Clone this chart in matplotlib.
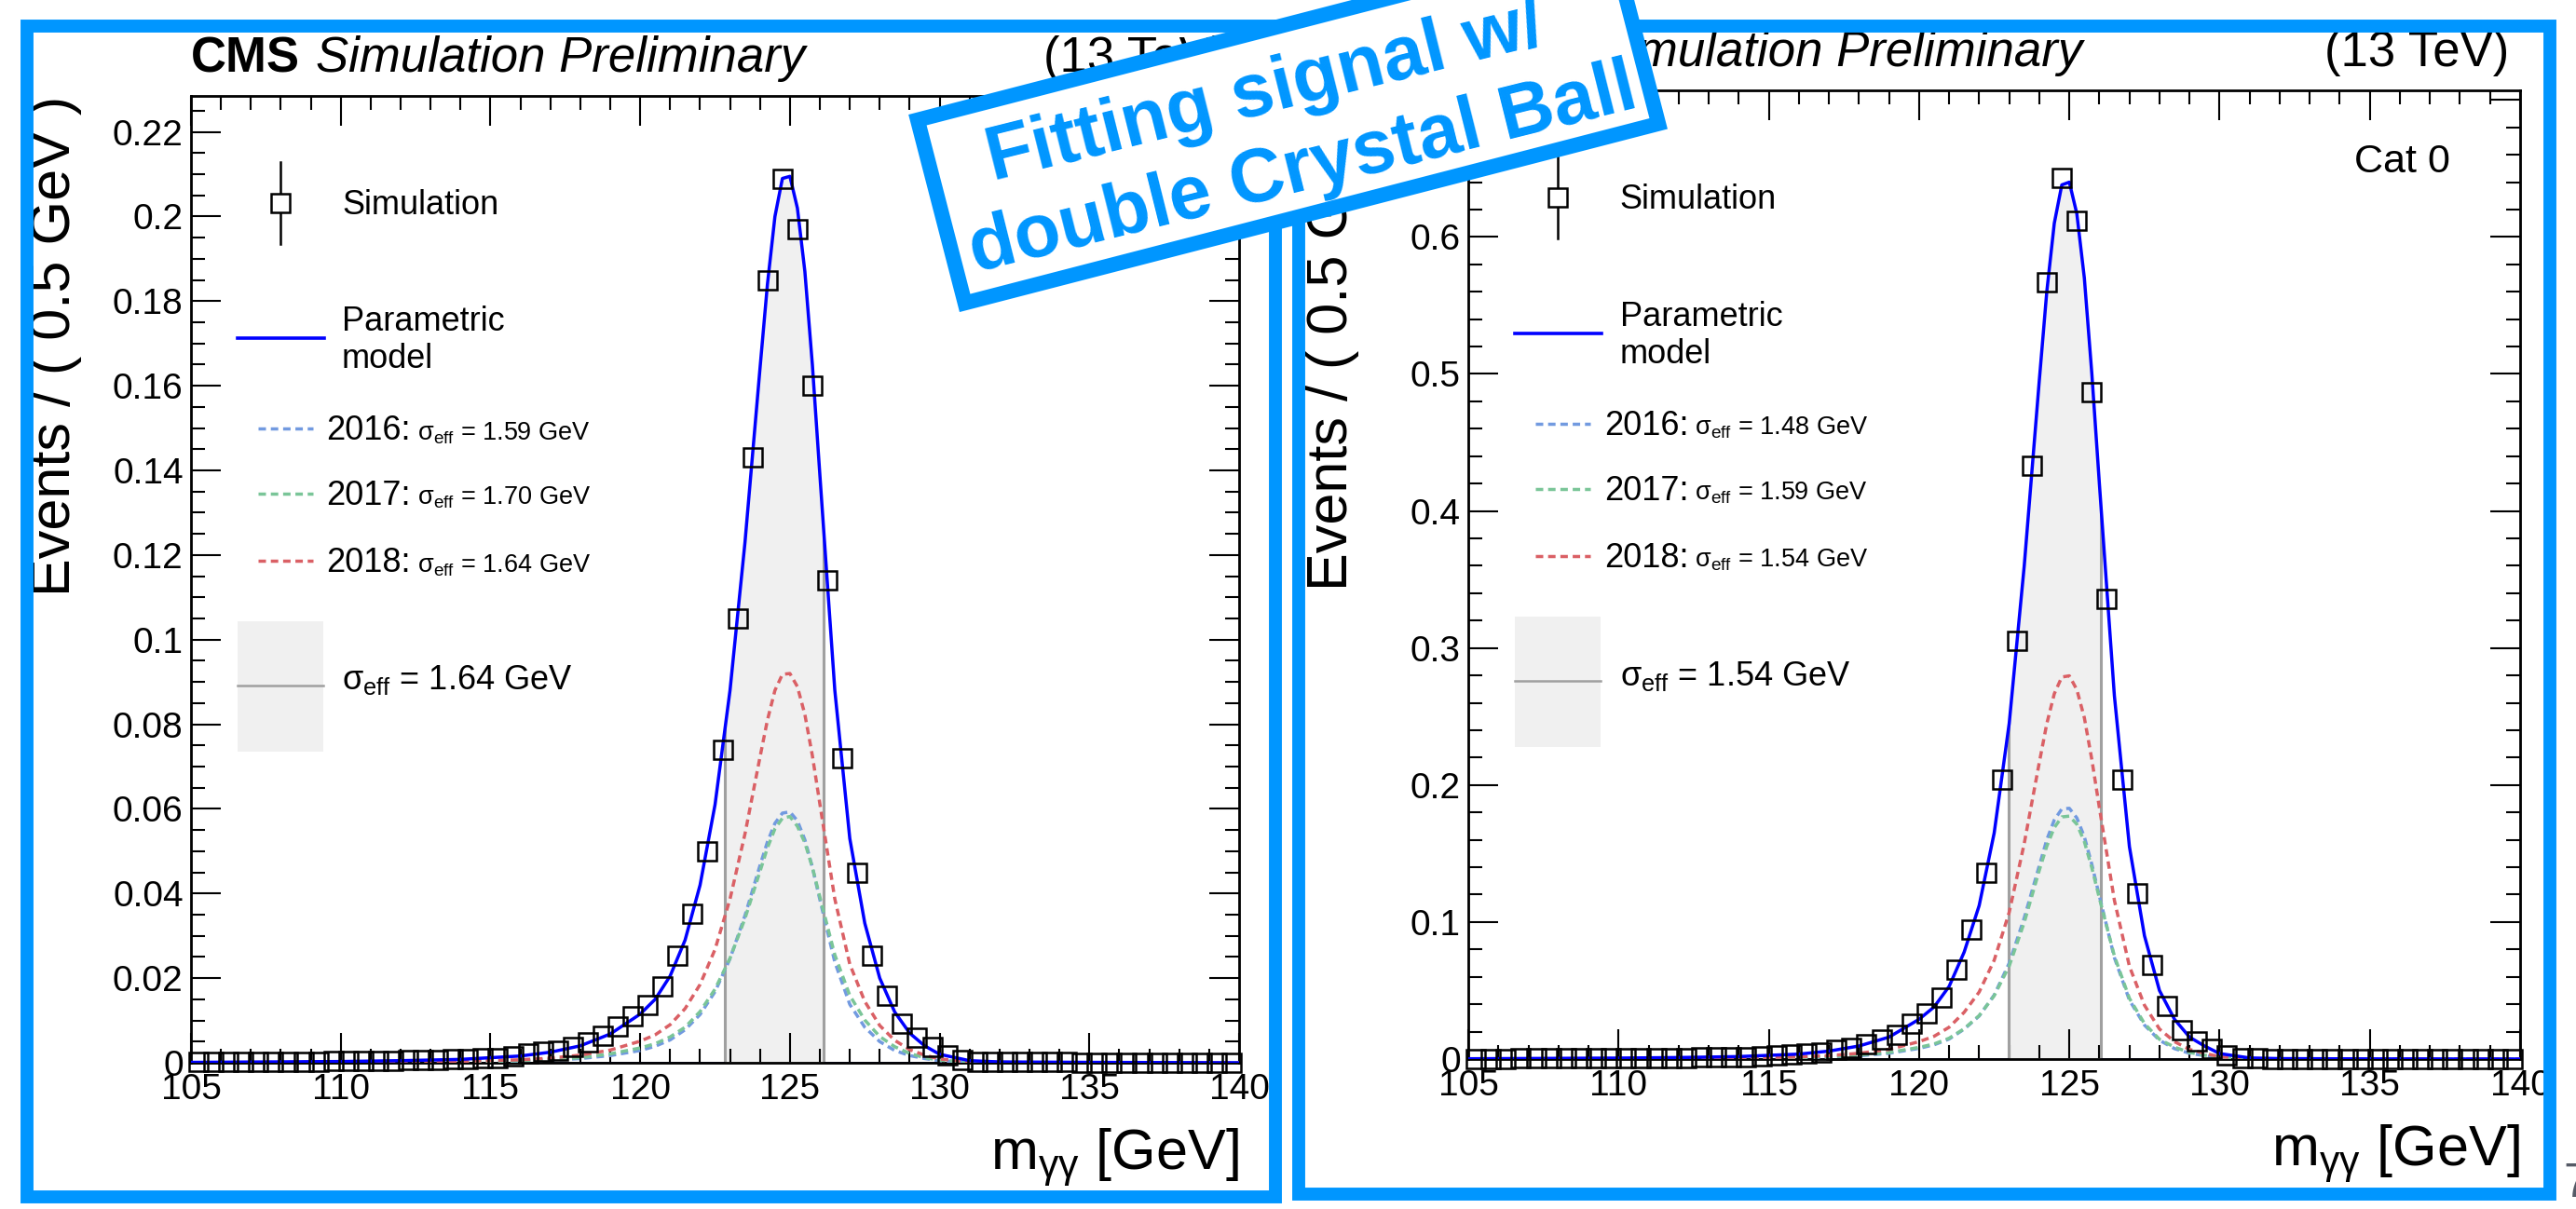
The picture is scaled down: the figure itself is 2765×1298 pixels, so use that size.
"""
Signal model figure: CMS H->gg double Crystal Ball fit, two categories side by side,
framed in blue with a rotated call-out box on top. Writes out.png (2765x1298).
"""
import numpy as np
import matplotlib
matplotlib.use("Agg")
import matplotlib.pyplot as plt
from matplotlib.patches import Rectangle
from matplotlib.ticker import MultipleLocator, FuncFormatter

plt.rcParams.update({
    "font.family":      ["Liberation Sans", "DejaVu Sans"],
    "mathtext.fontset": "custom",
    "mathtext.rm":      "Liberation Sans",
    "mathtext.it":      "Liberation Sans:italic",
    "mathtext.bf":      "Liberation Sans:bold",
})

# ── Data ─────────────────────────────────────────────────────────────────────
MASS_BINS = np.arange(105.25, 140.0, 0.5)          # 0.5 GeV bin centres, 70 bins
YEARS = ["2016", "2017", "2018"]

# left panel (all categories)
SIM_ALL = [
    0.0002, 0.0002, 0.0002, 0.0002, 0.0003, 0.0003, 0.0003, 0.0003, 0.0003, 0.0004,
    0.0004, 0.0004, 0.0005, 0.0005, 0.0006, 0.0006, 0.0007, 0.0008, 0.0009, 0.0010,
    0.0012, 0.0015, 0.0022, 0.0026, 0.0029, 0.0037, 0.0048, 0.0063, 0.0085, 0.0110,
    0.0136, 0.0180, 0.0254, 0.0353, 0.0500, 0.0740, 0.1050, 0.1430, 0.1850, 0.2090,
    0.1970, 0.1600, 0.1140, 0.0720, 0.0450, 0.0254, 0.0158, 0.0092, 0.0060, 0.0037,
    0.0018, 0.0007, 0.0003, 0.0002, 0.0002, 0.0002, 0.0002, 0.0002, 0.0002, 0.0001,
    0.0001, 0.0001, 0.0001, 0.0001, 0.0001, 0.0001, 0.0001, 0.0001, 0.0001, 0.0001,
]
# right panel (Cat 0)
SIM_CAT0 = [
    0.0003, 0.0003, 0.0003, 0.0004, 0.0004, 0.0004, 0.0005, 0.0005, 0.0005, 0.0006,
    0.0006, 0.0007, 0.0008, 0.0009, 0.0010, 0.0011, 0.0013, 0.0015, 0.0016, 0.0020,
    0.0027, 0.0032, 0.0039, 0.0050, 0.0068, 0.0084, 0.0107, 0.0141, 0.0175, 0.0255,
    0.0334, 0.0448, 0.0650, 0.0948, 0.1360, 0.2040, 0.3050, 0.4330, 0.5670, 0.6430,
    0.6120, 0.4870, 0.3360, 0.2040, 0.1210, 0.0686, 0.0390, 0.0210, 0.0130, 0.0073,
    0.0027, 0.0010, 0.0005, 0.0003, 0.0003, 0.0003, 0.0003, 0.0003, 0.0002, 0.0002,
    0.0002, 0.0002, 0.0002, 0.0002, 0.0001, 0.0001, 0.0001, 0.0001, 0.0001, 0.0001,
]

# model curves, sampled along the mass axis
CURVE_X = [105, 110, 112, 114, 116, 117, 118, 119, 120, 120.5, 121, 121.5, 122,
           122.5, 123, 123.5, 124, 124.25, 124.5, 124.75, 125, 125.25, 125.5,
           125.75, 126, 126.5, 127, 127.5, 128, 128.5, 129, 129.5, 130, 131, 132,
           135, 140]

MODEL_ALL = [0.0001, 0.0003, 0.0005, 0.0008, 0.0016, 0.0025, 0.0040, 0.0068, 0.0115,
             0.0150, 0.0205, 0.0290, 0.0420, 0.0610, 0.0880, 0.1230, 0.1640, 0.1840,
             0.2000, 0.2090, 0.2095, 0.2020, 0.1870, 0.1650, 0.1390, 0.0880, 0.0530,
             0.0330, 0.0200, 0.0120, 0.0070, 0.0040, 0.0020, 0.0005, 0.0002, 0.0001, 0.0]
Y2016_ALL = [0.00003, 0.00008, 0.00013, 0.0002, 0.0004, 0.0006, 0.0010, 0.0017, 0.0029,
             0.0039, 0.0054, 0.0078, 0.0114, 0.0168, 0.0246, 0.0348, 0.0466, 0.0522,
             0.0566, 0.0590, 0.0593, 0.0572, 0.0527, 0.0462, 0.0386, 0.0238, 0.0138,
             0.0084, 0.0050, 0.0029, 0.0017, 0.0010, 0.0005, 0.0001, 0.0, 0.0, 0.0]
Y2017_ALL = [0.00003, 0.00009, 0.00015, 0.00025, 0.0005, 0.0008, 0.0012, 0.0021, 0.0035,
             0.0045, 0.0061, 0.0084, 0.0121, 0.0174, 0.0247, 0.0341, 0.0452, 0.0508,
             0.0553, 0.0578, 0.0582, 0.0559, 0.0520, 0.0462, 0.0392, 0.0255, 0.0159,
             0.0101, 0.0062, 0.0038, 0.0022, 0.0012, 0.0006, 0.0002, 0.0001, 0.0, 0.0]
Y2018_ALL = [0.00004, 0.00013, 0.00022, 0.00035, 0.0007, 0.0011, 0.0018, 0.0030, 0.0051,
             0.0066, 0.0090, 0.0128, 0.0185, 0.0268, 0.0387, 0.0541, 0.0722, 0.0810,
             0.0880, 0.0918, 0.0920, 0.0889, 0.0823, 0.0726, 0.0612, 0.0387, 0.0233,
             0.0145, 0.0088, 0.0053, 0.0031, 0.0018, 0.0009, 0.0002, 0.0001, 0.0, 0.0]

MODEL_CAT0 = [0.0002, 0.0007, 0.0011, 0.0018, 0.0036, 0.0058, 0.0095, 0.0160, 0.0290,
              0.0380, 0.0530, 0.0780, 0.1120, 0.1650, 0.2450, 0.3600, 0.4950, 0.5600,
              0.6100, 0.6380, 0.6400, 0.6170, 0.5700, 0.5000, 0.4200, 0.2650, 0.1550,
              0.0900, 0.0500, 0.0290, 0.0160, 0.0095, 0.0040, 0.0008, 0.0003, 0.0001, 0.0]
Y2016_CAT0 = [0.00005, 0.0002, 0.0003, 0.0004, 0.0009, 0.0016, 0.0024, 0.0042, 0.0078,
              0.0104, 0.0146, 0.0218, 0.0314, 0.0467, 0.0700, 0.1030, 0.1410, 0.1600,
              0.1745, 0.1825, 0.1830, 0.1760, 0.1622, 0.1420, 0.1190, 0.0740, 0.0430,
              0.0248, 0.0137, 0.0076, 0.0042, 0.0025, 0.0011, 0.0002, 0.0001, 0.0, 0.0]
Y2017_CAT0 = [0.00005, 0.0002, 0.00032, 0.0006, 0.0011, 0.0017, 0.0029, 0.0048, 0.0085,
              0.0110, 0.0152, 0.0221, 0.0317, 0.0462, 0.0679, 0.0997, 0.1377, 0.1553,
              0.1689, 0.1767, 0.1773, 0.1714, 0.1587, 0.1395, 0.1175, 0.0752, 0.0443,
              0.0259, 0.0144, 0.0087, 0.0048, 0.0028, 0.0012, 0.0003, 0.0001, 0.0001, 0.0]
Y2018_CAT0 = [0.0001, 0.0003, 0.00048, 0.0008, 0.0016, 0.0025, 0.0042, 0.0070, 0.0127,
              0.0166, 0.0232, 0.0341, 0.0489, 0.0721, 0.1071, 0.1573, 0.2163, 0.2447,
              0.2666, 0.2788, 0.2797, 0.2696, 0.2491, 0.2185, 0.1835, 0.1158, 0.0677,
              0.0393, 0.0219, 0.0127, 0.0070, 0.0042, 0.0017, 0.0003, 0.0001, 0.0, 0.0]

SIGMA_YEARS_ALL  = [1.59, 1.70, 1.64]
SIGMA_YEARS_CAT0 = [1.48, 1.59, 1.54]
SIGMA_ALL  = 1.64
SIGMA_CAT0 = 1.54
WINDOW_ALL  = (122.83, 126.11)     # sigma_eff window shaded under the model
WINDOW_CAT0 = (122.99, 126.05)

CALLOUT_LINES = ["Fitting signal w/", "double Crystal Ball"]

# ── Style / layout constants ─────────────────────────────────────────────────
W_PX, H_PX = 2765, 1298
DPI = 100
XMIN, XMAX = 105, 140

MODEL_BLUE  = "#0000ff"
YEAR_COLORS = ["#729ae0", "#7ac598", "#da6065"]
BAND_GREY   = "#f0f0f0"
EDGE_GREY   = "#a0a0a0"
BASE_NAVY   = "#2a2a80"
FRAME_BLUE  = "#0096ff"
DASH        = (0, (2.3, 1.5))
LW_DASH     = 2.5

FS_TICK, FS_LEG, FS_SMALL, FS_AXIS, FS_CMS, FS_CAT = 28, 26, 19.5, 44, 38, 31


def px_axes(left, right, top, bottom):
    """Axes rect in figure fractions from pixel edges (y measured from top)."""
    return [left / W_PX, 1 - bottom / H_PX, (right - left) / W_PX, (bottom - top) / H_PX]


def draw_legend(ax, sig_years, sig_comb):
    tr = ax.transAxes
    ax.plot([0.085, 0.085], [0.847, 0.932], transform=tr, color="black", lw=1.8, zorder=6)
    ax.plot([0.085], [0.889], transform=tr, ls="none", marker="s", ms=14,
            mfc="white", mec="black", mew=1.8, zorder=7)
    ax.text(0.144, 0.8776, "Simulation", transform=tr, fontsize=FS_LEG, va="baseline")

    ax.plot([0.0444, 0.127], [0.7495, 0.7495], transform=tr, color=MODEL_BLUE, lw=2.6)
    ax.text(0.144, 0.757, "Parametric", transform=tr, fontsize=FS_LEG, va="baseline")
    ax.text(0.144, 0.7187, "model", transform=tr, fontsize=FS_LEG, va="baseline")

    for year, sig, col, yc, yb in zip(YEARS, sig_years, YEAR_COLORS,
                                      (0.6562, 0.5886, 0.5193),
                                      (0.6445, 0.5771, 0.5077)):
        ax.plot([0.064, 0.116], [yc, yc], transform=tr, color=col, lw=LW_DASH, ls=DASH)
        t = ax.text(0.129, yb, f"{year}:", transform=tr, fontsize=FS_LEG, va="baseline")
        ax.annotate(rf"$\mathregular{{σ_{{eff}}}}$ = {sig:.2f} GeV", xy=(1, yb),
                    xycoords=(t, tr), xytext=(5, 0), textcoords="offset points",
                    fontsize=FS_SMALL, va="baseline")

    ax.add_patch(Rectangle((0.0444, 0.3218), 0.0818, 0.1348, transform=tr,
                           facecolor=BAND_GREY, edgecolor="none", zorder=1))
    ax.plot([0.0444, 0.1262], [0.390, 0.390], transform=tr, color=EDGE_GREY, lw=1.8)
    ax.text(0.144, 0.386, rf"$\mathregular{{σ_{{eff}}}}$ = {sig_comb:.2f} GeV",
            transform=tr, fontsize=FS_LEG, va="baseline")


def draw_panel(ax, sim, model, years, sig_years, sig_comb, window,
               ymax, ymajor, yminor, cat=None):
    lo, hi = window

    # sigma_eff band under the model
    band = ax.fill_between(CURVE_X, 0, model, color=BAND_GREY, lw=0, zorder=1)
    band.set_clip_path(Rectangle((lo, 0), hi - lo, ymax, transform=ax.transData))
    for xe in window:
        ln, = ax.plot([xe, xe], [0, ymax], color=EDGE_GREY, lw=2.2, zorder=2)
        ln.set_clip_path(band.get_paths()[0], ax.transData)
    ax.hlines(0, XMIN, lo, color=BASE_NAVY, lw=2.0, zorder=2)
    ax.hlines(0, hi, XMAX, color=BASE_NAVY, lw=2.0, zorder=2)
    ax.hlines(0, lo, hi, color="#c8c8c8", lw=2.0, zorder=2)

    for vals, col in zip(years, YEAR_COLORS):
        ax.plot(CURVE_X, vals, color=col, lw=LW_DASH, ls=DASH, zorder=3)
    ax.plot(CURVE_X, model, color=MODEL_BLUE, lw=2.5, zorder=4)
    ax.plot(MASS_BINS, sim, ls="none", marker="s", ms=14, mfc="none", mec="black",
            mew=1.8, clip_on=False, zorder=5)

    ax.set_xlim(XMIN, XMAX)
    ax.set_ylim(0, ymax)
    ax.xaxis.set_major_locator(MultipleLocator(5))
    ax.xaxis.set_minor_locator(MultipleLocator(1))
    ax.yaxis.set_major_locator(MultipleLocator(ymajor))
    ax.yaxis.set_minor_locator(MultipleLocator(yminor))
    ax.yaxis.set_major_formatter(FuncFormatter(lambda v, _: f"{v:g}"))
    ax.xaxis.set_major_formatter(FuncFormatter(lambda v, _: f"{v:g}"))
    ax.tick_params(which="both", direction="in", top=True, right=True, width=1.5,
                   labelsize=FS_TICK)
    ax.tick_params(which="major", length=23)
    ax.tick_params(which="minor", length=11)
    ax.tick_params(axis="y", pad=6)
    ax.tick_params(axis="x", pad=8)
    for sp in ax.spines.values():
        sp.set_linewidth(2.0)

    ax.set_ylabel("Events / ( 0.5 GeV )", fontsize=FS_AXIS, loc="top")
    ax.yaxis.set_label_coords(-0.104, 1.0)
    ax.set_xlabel(r"$\mathregular{m_{γγ}}$ [GeV]", fontsize=FS_AXIS, loc="right")
    ax.xaxis.set_label_coords(1.0, -0.066)

    cms = ax.text(0.0, 1.025, "CMS", transform=ax.transAxes, fontsize=FS_CMS,
                  fontweight="bold", va="baseline")
    ax.annotate("Simulation Preliminary", xy=(1, 1.025), xycoords=(cms, ax.transAxes),
                xytext=(12, 0), textcoords="offset points", fontsize=FS_CMS,
                style="italic", va="baseline")
    ax.text(0.99, 1.025, "(13 TeV)", transform=ax.transAxes, fontsize=FS_CMS,
            ha="right", va="baseline")
    if cat:
        ax.text(0.9336, 0.915, cat, transform=ax.transAxes, fontsize=FS_CAT,
                ha="right", va="baseline")

    draw_legend(ax, sig_years, sig_comb)


fig = plt.figure(figsize=(W_PX / DPI, H_PX / DPI), dpi=DPI)

ax_all = fig.add_axes(px_axes(205, 1330, 103, 1141))
draw_panel(ax_all, SIM_ALL, MODEL_ALL, [Y2016_ALL, Y2017_ALL, Y2018_ALL],
           SIGMA_YEARS_ALL, SIGMA_ALL, WINDOW_ALL, 0.2285, 0.02, 0.005)

ax_cat = fig.add_axes(px_axes(1576, 2705, 97, 1137))
draw_panel(ax_cat, SIM_CAT0, MODEL_CAT0, [Y2016_CAT0, Y2017_CAT0, Y2018_CAT0],
           SIGMA_YEARS_CAT0, SIGMA_CAT0, WINDOW_CAT0, 0.707, 0.1, 0.02, cat="Cat 0")

# ── Slide overlay: blue frames + rotated call-out (pixel coords, y up) ───────
over = fig.add_axes([0, 0, 1, 1], zorder=20)
over.set_xlim(0, W_PX)
over.set_ylim(0, H_PX)
over.axis("off")
over.patch.set_alpha(0)

over.add_patch(Rectangle((29, H_PX - 1285), 1339.5, 1257.5, fill=False,
                         edgecolor=FRAME_BLUE, lw=10))
over.add_patch(Rectangle((1394, H_PX - 1281.5), 1343, 1254, fill=False,
                         edgecolor=FRAME_BLUE, lw=10))

over.add_patch(Rectangle((1035.7, 972.7), 769, 203, angle=14.5, facecolor="white",
                         edgecolor=FRAME_BLUE, lw=11.5, zorder=5))
# each call-out line anchored at the start of its baseline
for line, (bx, by) in zip(CALLOUT_LINES, [(1066, 195), (1047, 293)]):
    over.text(bx, H_PX - by, line, color=FRAME_BLUE, fontsize=58.5, fontweight="bold",
              rotation=14, rotation_mode="anchor", ha="left", va="baseline", zorder=6)

over.text(2751, H_PX - 1247, "7", color="#555a66", fontsize=37, ha="left", va="top")

fig.savefig("out.png", dpi=DPI)
